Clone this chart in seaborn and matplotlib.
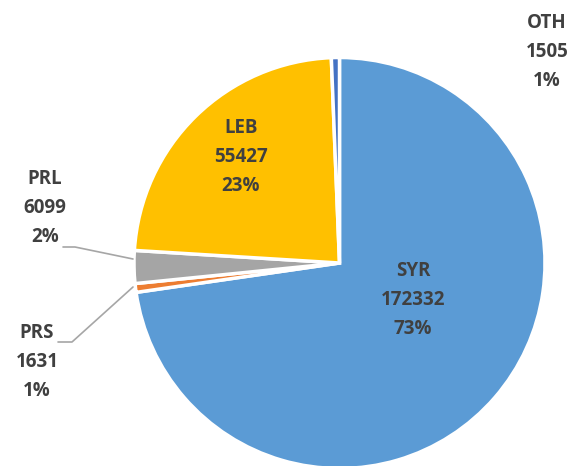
import matplotlib
matplotlib.use("Agg")
import matplotlib.pyplot as plt
import seaborn as sns

# data
categories = ["SYR", "PRS", "PRL", "LEB", "OTH"]
values = [172332, 1631, 6099, 55427, 1505]
pct_labels = ["73%", "1%", "2%", "23%", "1%"]
colors = ["#5B9BD5", "#ED7D31", "#A5A5A5", "#FFC000", "#4472C4"]

sns.set_style("white")
plt.rcParams["font.family"] = ["Open Sans", "DejaVu Sans"]

W, H = 577, 466
cx, cy, r = 339.5, 263.0, 205.5  # pie centre / radius in pixels


def px(x, y):
    # pixel position -> data coordinates (pie radius = 1)
    return (x - cx) / r, (cy - y) / r


fig = plt.figure(figsize=(W / 100, H / 100), dpi=100)
ax = fig.add_axes([0, 0, 1, 1])
ax.pie(values, colors=colors, startangle=90, counterclock=False, radius=1,
       wedgeprops=dict(edgecolor="white", linewidth=2.5))
ax.set_xlim(-cx / r, (W - cx) / r)
ax.set_ylim(-(H - cy) / r, cy / r)
ax.set_aspect("equal")
ax.axis("off")

label_pos = {"SYR": (413, 300), "PRS": (37, 362), "PRL": (45, 208),
             "LEB": (241, 157), "OTH": (547, 52)}
for cat, v, pct in zip(categories, values, pct_labels):
    x, y = px(*label_pos[cat])
    ax.text(x, y, f"{cat}\n{v}\n{pct}", ha="center", va="center",
            fontsize=13.5, fontweight="bold", color="#404040", linespacing=1.6)

# leader lines
for pts in ([(63, 247), (75, 247), (133, 259)],
            [(58, 342), (72, 342), (133, 287)]):
    xs, ys = zip(*[px(*p) for p in pts])
    ax.plot(xs, ys, color="#A6A6A6", linewidth=1.2)

fig.savefig("out.png", dpi=100)
